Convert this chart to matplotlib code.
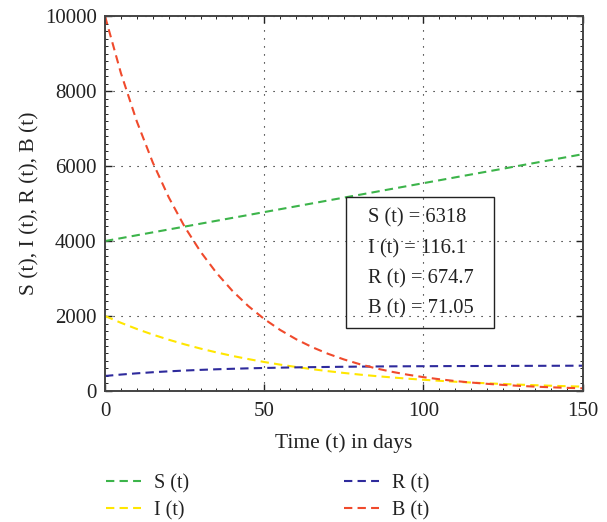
import matplotlib
matplotlib.use("Agg")
import matplotlib.pyplot as plt
from matplotlib.ticker import MultipleLocator
from matplotlib.patches import Rectangle

plt.rcParams['font.family'] = ['Liberation Serif', 'DejaVu Serif']

# tijd in dagen en de vier reeksen
t = [0, 5, 10, 15, 20, 25, 30, 35, 40, 45, 50, 55, 60, 65, 70, 75,
     80, 85, 90, 95, 100, 105, 110, 115, 120, 125, 130, 135, 140, 145, 150]
S = [4000, 4077, 4155, 4232, 4309, 4386, 4464, 4541, 4618, 4695, 4773,
     4850, 4927, 5004, 5082, 5159, 5236, 5313, 5391, 5468, 5545, 5622,
     5700, 5777, 5854, 5931, 6009, 6086, 6163, 6240, 6318]
I = [2000, 1819, 1654, 1504, 1368, 1244, 1131, 1029, 935, 851, 773,
     703, 640, 582, 529, 481, 437, 398, 362, 329, 299, 272, 247, 225,
     205, 186, 169, 154, 140, 127, 116.1]
R = [400, 438, 471, 500, 524, 545, 563, 579, 592, 604, 614, 622, 630,
     636, 641, 646, 650, 654, 657, 659, 661, 663, 665, 666, 667, 669,
     670, 671, 672, 673.5, 674.7]
B = [10000, 8479, 7189, 6096, 5169, 4382, 3716, 3151, 2671, 2265, 1920,
     1628, 1381, 1171, 993, 842, 714, 605, 513, 435, 369, 313, 265, 225,
     191, 162, 137, 116, 98.5, 83.6, 71.05]

labels = ['S (t)', 'I (t)', 'R (t)', 'B (t)']
kleurid = ['#3cb44a', '#ffe600', '#2e2a9c', '#f04a2c']
tekst = 'S (t) = 6318\nI (t) = 116.1\nR (t) = 674.7\nB (t) = 71.05'

fig = plt.figure(figsize=(6.07, 5.22), dpi=100)
ax = fig.add_axes([0.173, 0.251, 0.787, 0.718])

jooned = []
for y, lab, c in zip([S, I, R, B], labels, kleurid):
    ln, = ax.plot(t, y, color=c, lw=1.5, dashes=(4, 2.5), label=lab)
    jooned.append(ln)

ax.set_xlim(0, 150)
ax.set_ylim(0, 10000)
ax.xaxis.set_major_locator(MultipleLocator(50))
ax.xaxis.set_minor_locator(MultipleLocator(5))
ax.yaxis.set_major_locator(MultipleLocator(2000))
ax.yaxis.set_minor_locator(MultipleLocator(200))
ax.tick_params(which='both', direction='in', top=True, right=True,
               labelsize=15, colors='#222222', pad=6)
ax.tick_params(axis='x', pad=8)
ax.tick_params(which='major', length=5, width=1)
ax.tick_params(which='minor', length=2.5, width=0.7)
ax.grid(True, which='major', color='black', linestyle=(0, (1, 6.2)), lw=0.8)
for sp in ax.spines.values():
    sp.set_color('#444444')
    sp.set_linewidth(1.4)

ax.set_xlabel('Time (t) in days', fontsize=15.5, color='#222222', labelpad=9)
ax.set_ylabel('S (t), I (t), R (t), B (t)', fontsize=15.5, color='#222222', labelpad=4)

# kast tulemustega (läbipaistev, ruudustik paistab läbi)
ax.add_patch(Rectangle((0.504, 0.168), 0.310, 0.349, transform=ax.transAxes,
                       fc='none', ec='#222222', lw=1, zorder=5))
ax.text(0.550, 0.340, tekst, transform=ax.transAxes, fontsize=14.8,
        va='center', ha='left', linespacing=1.78, color='#222222', zorder=6)

# legend kahes veerus
for i, x0 in enumerate([0.174, 0.566]):
    leg = fig.legend(handles=jooned[2 * i:2 * i + 2], frameon=False,
                     loc='upper left', bbox_to_anchor=(x0, 0.092),
                     borderaxespad=0, borderpad=0, fontsize=14.5,
                     handlelength=1.75, handletextpad=0.65,
                     labelspacing=0.4, labelcolor='#222222')

fig.savefig('out.png', dpi=100)
